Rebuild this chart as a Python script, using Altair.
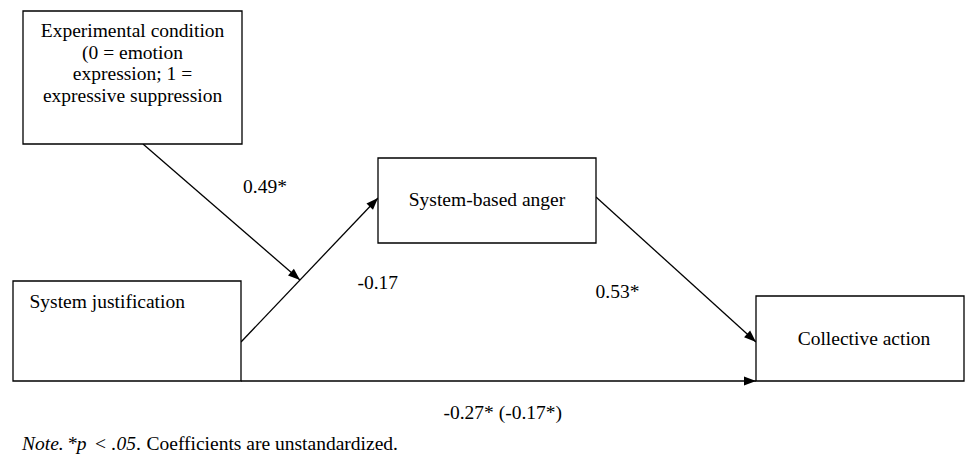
import altair as alt
import pandas as pd
import numpy as np

# ---- boxes (image pixel coordinates) ----
box_names = ["Experimental condition", "System-based anger", "System justification", "Collective action"]
box_x0 = [23, 378, 13, 756]
box_x1 = [242, 596, 241, 964]
box_y0 = [11, 158, 281, 296]
box_y1 = [144, 243, 381, 381]

# ---- paths (start -> arrow tip) ----
path_x0 = [143, 241, 596, 241]
path_y0 = [144, 342, 197, 381]
path_x1 = [300, 378, 756, 756]
path_y1 = [280, 198, 342, 381]

# ---- node texts (centered) ----
center_text = ["Experimental condition", "(0 = emotion", "expression; 1 =", "expressive suppression",
               "System-based anger", "Collective action"]
center_x = [132.5, 132.5, 132.5, 132.5, 487, 864]
center_y = [37, 58.7, 80.4, 102, 206, 345]

# ---- left-aligned texts ----
left_text = ["System justification", "0.49*", "-0.17", "0.53*", "-0.27* (-0.17*)"]
left_x = [29.5, 243, 357.5, 595.5, 443.5]
left_y = [307.5, 193, 289, 298, 419]

# ---- note segments ----
note_text = ["Note.", "*p", "<", ".05", ".", "Coefficients are unstandardized."]
note_x = [22, 67, 95, 111.5, 136, 146.5]
note_italic = [True, True, False, True, False, False]
note_y = 449.5

FONT = "Liberation Serif"
FS = 19.5
SW = 1.3

xs = alt.Scale(domain=[8, 965], nice=False, zero=False)
ys = alt.Scale(domain=[8, 455], reverse=True, nice=False, zero=False)

boxes = pd.DataFrame({"name": box_names, "x0": box_x0, "x1": box_x1, "y0": box_y0, "y1": box_y1})
paths = pd.DataFrame({"x0": path_x0, "y0": path_y0, "x1": path_x1, "y1": path_y1})
paths["angle"] = (np.degrees(np.arctan2(paths["x1"] - paths["x0"], -(paths["y1"] - paths["y0"]))) % 360)
ctext = pd.DataFrame({"t": center_text, "x": center_x, "y": center_y})
ltext = pd.DataFrame({"t": left_text, "x": left_x, "y": left_y})
notes = pd.DataFrame({"t": note_text, "x": note_x, "it": note_italic})
notes["y"] = note_y

rects = alt.Chart(boxes).mark_rect(fill="white", stroke="black", strokeWidth=SW).encode(
    x=alt.X("x0:Q", scale=xs, axis=None), x2="x1:Q",
    y=alt.Y("y0:Q", scale=ys, axis=None), y2="y1:Q")

lines = alt.Chart(paths).mark_rule(color="black", strokeWidth=SW).encode(
    x=alt.X("x0:Q", scale=xs, axis=None), x2="x1:Q",
    y=alt.Y("y0:Q", scale=ys, axis=None), y2="y1:Q")

heads = alt.Chart(paths).mark_point(
    shape="M0,0 L0.75,2 L-0.75,2 Z", filled=True, color="black", opacity=1, size=144, strokeWidth=0
).encode(
    x=alt.X("x1:Q", scale=xs, axis=None),
    y=alt.Y("y1:Q", scale=ys, axis=None),
    angle=alt.Angle("angle:Q", scale=None))

tc = alt.Chart(ctext).mark_text(font=FONT, fontSize=FS, align="center", baseline="alphabetic", color="black").encode(
    x=alt.X("x:Q", scale=xs, axis=None), y=alt.Y("y:Q", scale=ys, axis=None), text="t:N")

tl = alt.Chart(ltext).mark_text(font=FONT, fontSize=FS, align="left", baseline="alphabetic", color="black").encode(
    x=alt.X("x:Q", scale=xs, axis=None), y=alt.Y("y:Q", scale=ys, axis=None), text="t:N")

n_it = alt.Chart(notes[notes["it"]]).mark_text(font=FONT, fontSize=FS, fontStyle="italic", align="left",
                                               baseline="alphabetic", color="black").encode(
    x=alt.X("x:Q", scale=xs, axis=None), y=alt.Y("y:Q", scale=ys, axis=None), text="t:N")
n_rg = alt.Chart(notes[~notes["it"]]).mark_text(font=FONT, fontSize=FS, align="left",
                                                baseline="alphabetic", color="black").encode(
    x=alt.X("x:Q", scale=xs, axis=None), y=alt.Y("y:Q", scale=ys, axis=None), text="t:N")

chart = alt.layer(lines, rects, heads, tc, tl, n_it, n_rg).properties(
    width=957, height=447, padding=0, autosize=alt.AutoSizeParams(type="none")
).configure_view(stroke=None)

chart.save("out.html", embed_options={"renderer": "svg", "actions": False})
